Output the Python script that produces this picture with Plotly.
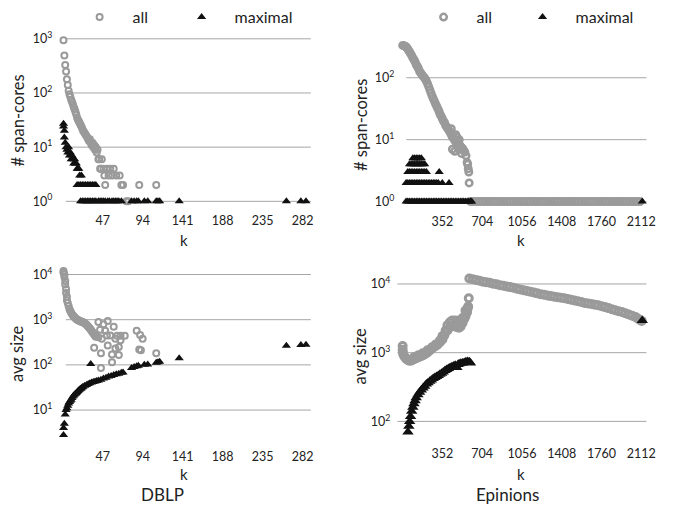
import plotly.graph_objects as go

# ---------------- DATA ----------------
# DBLP: number of span-cores per k
dblp_cnt_all_k = [1,2,3,4,5,6,7,8,9,10,11,12,13,14,15,16,17,18,19,20,21,22,23,24,25,26,27,28,29,30,
                  31,32,33,34,35,36,37,38,39,40,41,42,43,44,45,46,48,49,50,52,54,56,58,60,63,67,69,71,75,77,90,110]
dblp_cnt_all = [940,490,330,250,180,140,110,95,85,75,68,62,55,50,45,40,35,32,30,28,26,24,22,20,19,18,17,16,15,14,
                13,14,12,11,12,10,11,9,10,8,9,6,6,4,4,6,4,3,2,4,3,4,3,4,3,3,2,2,1,1,2,2]

dblp_cnt_max_k = [1,1,2,2,3,4,5,6,7,8,9,10,11,12,13,14,15,16,17,18,19,20,22,
                  17,19,21,23,25,27,29,31,33,35,37,39,
                  21,23,25,27,29,31,33,35,37,39,42,44,46,48,50,53,55,58,60,62,64,66,69,
                  81,84,87,89,96,100,110,112,114,137,263,280,286]
dblp_cnt_max = [27,24,20,15,12,10,9,8,10,7,8,6,7,6,5,6,5,5,4,4,4,3,3,
                2,2,2,2,2,2,2,2,2,2,2,2,
                1,1,1,1,1,1,1,1,1,1,1,1,1,1,1,1,1,1,1,1,1,1,1,
                1,1,1,1,1,1,1,1,1,1,1,1,1]

# DBLP: average size per k
dblp_size_all_k = [1,1,2,2,3,3,4,4,5,5,6,7,8,9,10,11,12,13,14,15,16,17,18,19,20,21,22,23,24,25,26,27,28,29,30,
                   31,32,33,34,35,36,37,38,39,40,
                   42,48,53,50,42,46,52,56,62,64,68,62,66,68,87,91,94,90,92,37,45,53,58,66,45,58,110,73,44,60]
dblp_size_all = [12000,11000,10000,8800,7200,6000,4800,3900,3200,2700,2350,2000,1700,1550,1420,1320,1250,1180,1130,1080,
                 1040,1000,980,960,940,920,900,890,880,860,830,800,770,740,700,670,640,600,570,530,500,470,440,420,430,
                 890,790,940,570,410,380,445,445,380,440,440,230,250,350,570,460,380,220,210,240,180,270,170,165,85,115,
                 180,440,600,700]

dblp_size_max_k = [1,1,2,3,4,5,6,7,8,9,10,11,12,13,14,15,16,17,18,19,20,21,22,23,24,26,28,30,32,34,36,38,40,
                   42,45,48,51,54,57,60,63,66,69,71,33,81,84,87,89,96,100,110,112,114,137,263,280,286]
dblp_size_max = [2.8,4,5,8,10,11,12.5,14,15,16,17,18.5,20,21,22,23,24,25,26.5,27.5,28.5,29.5,30.5,32,33,34.5,36,37.5,
                 39,40.5,42,43,44,45,47,50,52,55,57,60,62,64,67,68,105,85,90,93,96,100,102,112,115,117,140,265,275,280]

# Epinions: number of span-cores per k
ep_cnt_all_k = [0,10,20,30,40,50,60,70,80,90,100,110,120,130,140,150,160,170,180,190,200,210,220,230,240,250,
                260,270,280,290,300,310,320,330,340,350,360,370,380,390,400,410,420,430,440,450,460,470,480,490,
                500,510,520,530,540,550,560,570,575,580,585,588,
                440,460,500,520,470,500,430,480,
                600,625,650,675,700,725,750,775,800,825,850,875,900,925,950,975,1000,1025,1050,1075,1100,1125,
                1150,1175,1200,1225,1250,1275,1300,1325,1350,1375,1400,1425,1450,1475,1500,1525,1550,1575,1600,
                1625,1650,1675,1700,1725,1750,1775,1800,1825,1850,1875,1900,1925,1950,1975,2000,2025,2050,2075,2100]
ep_cnt_all = [333,330,322,316,300,280,263,245,228,209,195,180,162,152,140,126,120,112,106,101,95,88,80,72,64,57,
              51,46,42,38,35,32,29,26,24,22,20,19,17,16,15,14,13,12,11,10.5,9.8,9.2,8.9,8.5,
              8.2,7.9,7.5,7.2,6.7,6.3,5.5,4.3,4.0,3.4,3.0,2.0,
              7,6.5,7,6,12,10,15,11,
              1,1,1,1,1,1,1,1,1,1,1,1,1,1,1,1,1,1,1,1,1,1,
              1,1,1,1,1,1,1,1,1,1,1,1,1,1,1,1,1,1,1,
              1,1,1,1,1,1,1,1,1,1,1,1,1,1,1,1,1,1,1,1]

ep_cnt_max_k = [30,45,60,75,90,105,120,135,150,165,180,195,210,225,240,255,270,285,300,315,330,345,360,375,390,
                405,420,435,450,465,480,495,510,525,540,555,570,585,600,610,2120,
                30,45,60,75,90,105,120,135,150,165,180,195,210,225,240,255,270,285,300,315,350,410,
                45,60,75,90,105,120,135,150,165,180,195,210,323,
                60,75,90,105,120,135,150,165,180,195,
                90,105,120,135,150,165]
ep_cnt_max = [1,1,1,1,1,1,1,1,1,1,1,1,1,1,1,1,1,1,1,1,1,1,1,1,1,
              1,1,1,1,1,1,1,1,1,1,1,1,1,1,1,1,
              2,2,2,2,2,2,2,2,2,2,2,2,2,2,2,2,2,2,2,2,2,2,
              3,3,3,3,3,3,3,3,3,3,3,3,3,
              4,4,4,4,4,4,4,4,4,4,
              5,5,5,5,5,5]

# Epinions: average size per k
ep_size_all_k = [0,0,3,8,17,30,45,61,80,100,120,140,160,178,200,220,240,260,280,294,310,330,352,370,396,420,440,
                 460,480,500,513,530,545,556,565,570,575,580,585,
                 100,140,178,220,260,294,330,352,380,396,420,440,470,500,513,530,556,
                 590,620,650,680,710,740,770,800,830,860,890,920,950,980,1010,1040,1070,1100,1130,1160,1190,
                 1220,1250,1280,1310,1340,1370,1400,1430,1460,1490,1520,1550,1580,1610,1640,1670,1700,1730,1760,
                 1790,1820,1850,1880,1910,1940,1970,2000,2030,2060,2080,2100,2115]
ep_size_all = [1250,1100,1000,930,870,820,780,760,770,800,830,860,890,910,960,1010,1080,1150,1220,1260,1320,1420,
               1550,1800,2100,2350,2500,2450,2350,2300,2400,2700,3100,3400,3800,3900,4400,4700,6200,
               860,920,980,1080,1200,1320,1500,1740,2100,2500,2800,2950,2950,2900,2950,3200,4100,
               12000,11700,11400,11100,10800,10600,10400,10100,9900,9600,9400,9200,9000,8800,8500,8300,8100,
               7900,7700,7500,7300,7100,6950,6800,6650,6500,6400,6300,6200,6050,5900,5750,5600,5450,5300,5200,
               5100,5000,4900,4750,4600,4450,4300,4150,4000,3900,3750,3600,3450,3300,3150,3000,2900]

ep_size_max_k = [47,55,62,70,80,90,100,110,120,135,150,165,180,195,210,225,240,255,270,285,300,315,330,345,360,
                 375,390,405,420,435,450,465,480,490,500,515,530,545,560,575,590,600,2120]
ep_size_max = [70,85,100,118,140,160,180,200,220,245,265,285,305,325,350,365,385,400,420,435,450,465,485,500,525,
               550,570,590,610,625,640,655,610,670,690,700,710,720,735,745,735,710,2950]

dblp_xticks = [47, 94, 141, 188, 235, 282]
ep_xticks = [352, 704, 1056, 1408, 1760, 2112]
cnt_yticks = [1, 10, 100, 1000]
cnt_ytext = ["10<sup>0</sup>", "10<sup>1</sup>", "10<sup>2</sup>", "10<sup>3</sup>"]
size_yticks = [10, 100, 1000, 10000]
size_ytext = ["10<sup>1</sup>", "10<sup>2</sup>", "10<sup>3</sup>", "10<sup>4</sup>"]

# ---------------- STYLE ----------------
GRAY = "#9a9a9a"
BLACK = "#111111"
GRID = "#a6a6a6"
TXT = "#222222"
FONT = "Lato"
W, H = 689, 514

def gray_marker(size=6, lw=2.0):
    return dict(symbol="circle-open", size=size, color=GRAY, line=dict(width=lw, color=GRAY))

def black_marker(size=8):
    return dict(symbol="triangle-up", size=size, color=BLACK, line=dict(width=0))

fig = go.Figure()

fig.add_trace(go.Scatter(x=dblp_cnt_all_k, y=dblp_cnt_all, mode="markers", name="all", legendwidth=31,
                         marker=gray_marker(), xaxis="x", yaxis="y", legend="legend", cliponaxis=False))
fig.add_trace(go.Scatter(x=dblp_cnt_max_k, y=dblp_cnt_max, mode="markers", name="maximal", legendwidth=90,
                         marker=black_marker(), xaxis="x", yaxis="y", legend="legend", cliponaxis=False))
fig.add_trace(go.Scatter(x=ep_cnt_all_k, y=ep_cnt_all, mode="markers", name="all", legendwidth=28,
                         marker=gray_marker(6.5, 2.5), xaxis="x2", yaxis="y2", legend="legend2", cliponaxis=False))
fig.add_trace(go.Scatter(x=ep_cnt_max_k, y=ep_cnt_max, mode="markers", name="maximal", legendwidth=90,
                         marker=black_marker(8), xaxis="x2", yaxis="y2", legend="legend2", cliponaxis=False))
fig.add_trace(go.Scatter(x=dblp_size_all_k, y=dblp_size_all, mode="markers", name="all", showlegend=False,
                         marker=gray_marker(), xaxis="x3", yaxis="y3", cliponaxis=False))
fig.add_trace(go.Scatter(x=dblp_size_max_k, y=dblp_size_max, mode="markers", name="maximal", showlegend=False,
                         marker=black_marker(), xaxis="x3", yaxis="y3", cliponaxis=False))
fig.add_trace(go.Scatter(x=ep_size_all_k, y=ep_size_all, mode="markers", name="all", showlegend=False,
                         marker=gray_marker(7, 3), xaxis="x4", yaxis="y4", cliponaxis=False))
fig.add_trace(go.Scatter(x=ep_size_max_k, y=ep_size_max, mode="markers", name="maximal", showlegend=False,
                         marker=black_marker(10), xaxis="x4", yaxis="y4", cliponaxis=False))

def px_x(a, b):
    return [a / W, b / W]

def px_y(top, bottom):
    return [1 - bottom / H, 1 - top / H]

tickfont = dict(family=FONT, size=12.5, color=TXT)

def xaxis(domain, rng, ticks, anchor, standoff):
    return dict(domain=domain, range=rng, tickvals=ticks, ticktext=[str(t) for t in ticks],
                showgrid=False, zeroline=False, showline=False, ticks="", tickfont=tickfont,
                anchor=anchor, ticklabelstandoff=standoff, fixedrange=True)

def yaxis(domain, rng, ticks, texts, anchor, standoff):
    return dict(type="log", domain=domain, range=rng, tickvals=ticks, ticktext=texts,
                showgrid=False, zeroline=False, showline=False,
                ticks="", tickfont=tickfont, anchor=anchor, ticklabelstandoff=standoff, fixedrange=True)

fig.update_layout(
    width=W, height=H, margin=dict(l=0, r=0, t=0, b=0), autosize=False,
    paper_bgcolor="white", plot_bgcolor="white",
    font=dict(family=FONT, color=TXT),
    xaxis=xaxis(px_x(60.05, 315), [-4, 291.8], dblp_xticks, "y", 9),
    yaxis=yaxis(px_y(26.1, 200.4), [-0.03, 3.1], cnt_yticks, cnt_ytext, "x", 6),
    xaxis2=xaxis(px_x(404.6, 655), [-30, 2157], ep_xticks, "y2", 9),
    yaxis2=yaxis(px_y(33.5, 200.9), [-0.03, 2.6], cnt_yticks, cnt_ytext, "x2", 4),
    xaxis3=xaxis(px_x(60.05, 315), [-4, 291.8], dblp_xticks, "y3", 8),
    yaxis3=yaxis(px_y(268.4, 443.5), [0.35, 4.12], size_yticks, size_ytext, "x3", 6),
    xaxis4=xaxis(px_x(402.7, 655), [-46, 2157], ep_xticks, "y4", 8),
    yaxis4=yaxis(px_y(275.2, 440.5), [1.78, 4.12], size_yticks, size_ytext, "x4", 6),
    legend=dict(orientation="h", x=67.5 / W, xanchor="left", y=1 + 8 / H, yanchor="top",
                font=dict(family=FONT, size=16, color=TXT), itemwidth=56,
                bgcolor="rgba(0,0,0,0)", borderwidth=0),
    legend2=dict(orientation="h", x=416 / W, xanchor="left", y=1 + 8 / H, yanchor="top",
                 font=dict(family=FONT, size=16, color=TXT), itemwidth=56,
                 bgcolor="rgba(0,0,0,0)", borderwidth=0),
)

# horizontal gridlines at the tick values, starting where the reference's grid starts
grid_specs = [("y", cnt_yticks, 66.7, 315), ("y2", cnt_yticks, 411.7, 655),
              ("y3", size_yticks, 66.7, 315), ("y4", size_yticks, 402.7, 655)]
shapes = []
for yref, vals, x0, x1 in grid_specs:
    for v in vals:
        shapes.append(dict(type="line", xref="paper", yref=yref, x0=x0 / W, x1=x1 / W,
                           y0=v, y1=v, layer="below", line=dict(color=GRID, width=1)))
fig.update_layout(shapes=shapes)

def ann(text, xpx, ypx, size, angle=0):
    return dict(text=text, x=xpx / W, y=1 - ypx / H, xref="paper", yref="paper",
                xanchor="center", yanchor="middle", showarrow=False, textangle=angle,
                font=dict(family=FONT, size=size, color=TXT))

fig.update_layout(annotations=[
    ann("k", 186.7, 238, 15), ann("k", 528.3, 238, 15),
    ann("k", 186.7, 479, 15), ann("k", 528.3, 479, 15),
    ann("DBLP", 165, 500.5, 17), ann("Epinions", 514, 500.5, 17),
    ann("# span-cores", 18, 116, 16.5, -90), ann("# span-cores", 365, 120, 16.5, -90),
    ann("avg size", 18, 355, 16.5, -90), ann("avg size", 365, 358, 16.5, -90),
])

fig.write_html("out.html", config={"displayModeBar": False},
               post_script="document.body.style.margin='0';document.body.style.padding='0';")
